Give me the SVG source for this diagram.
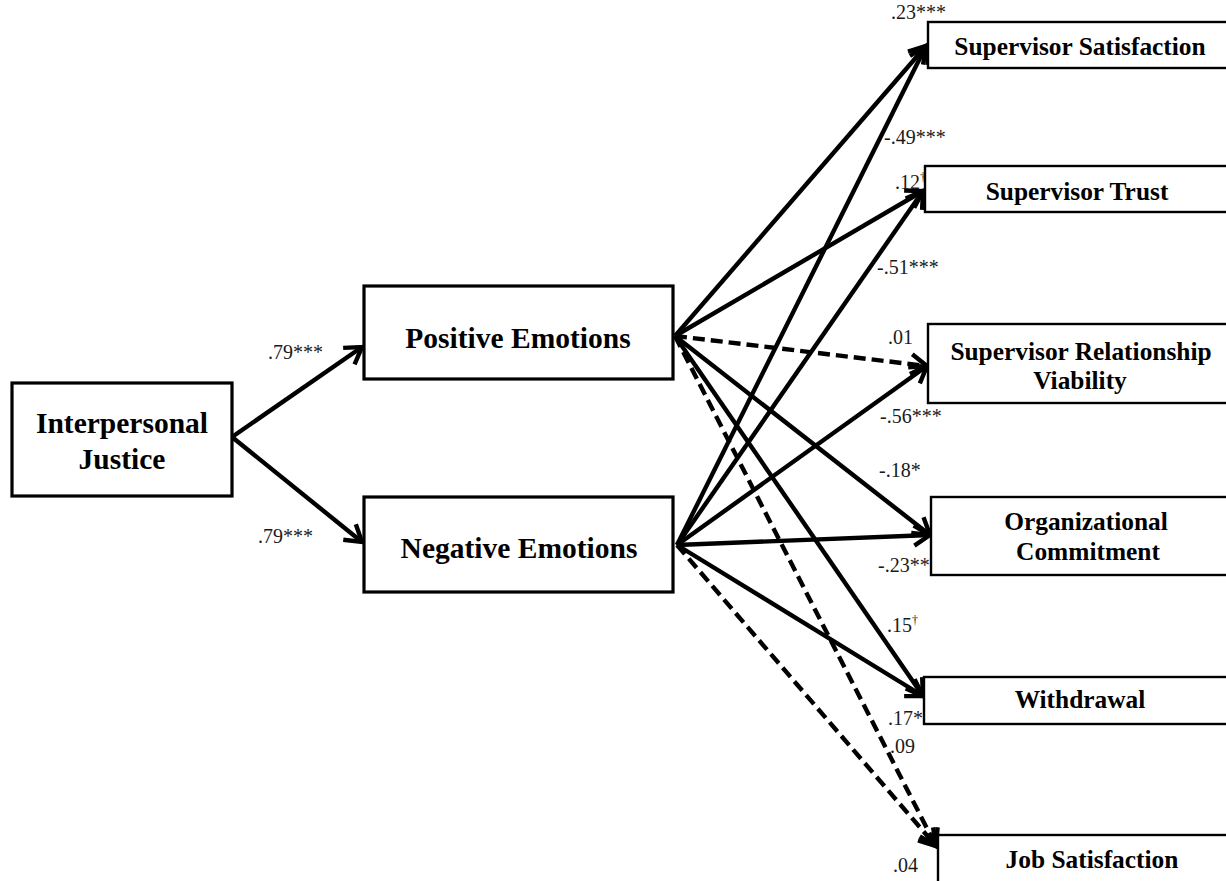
<svg xmlns="http://www.w3.org/2000/svg" width="1226" height="881" viewBox="0 0 1226 881">
<style>
.box{fill:#fff;stroke:#000;stroke-width:3.2}
.obox{fill:#fff;stroke:#000;stroke-width:2.4}
.main{font-family:"Liberation Serif","Times New Roman",serif;font-weight:bold;font-size:29.5px;fill:#000;text-anchor:middle}
.out{font-family:"Liberation Serif","Times New Roman",serif;font-weight:bold;font-size:25.4px;fill:#000;text-anchor:middle}
.lbl{font-family:"Liberation Serif","Times New Roman",serif;font-size:20px;fill:#1a1a1a}
.sup{font-size:12px;fill:#1a1a1a}
.c{stroke:#000;stroke-width:4.4;fill:none;marker-end:url(#ah)}
.d{stroke-dasharray:12 6}
</style>
<defs>
<marker id="ah" markerUnits="userSpaceOnUse" markerWidth="28" markerHeight="28" viewBox="0 0 28 28" refX="23" refY="14" orient="auto">
<path d="M7,4 L23,14 L7,24" fill="none" stroke="#000" stroke-width="4.4" stroke-linejoin="miter"/>
</marker>
</defs>
<rect width="1226" height="881" fill="#fff"/>

<g id="connectors">
<line class="c" x1="232" y1="437" x2="362" y2="347"/>
<line class="c" x1="232" y1="437" x2="362" y2="542"/>
<line class="c" x1="675" y1="336" x2="926" y2="46"/>
<line class="c" x1="675" y1="336" x2="923" y2="191"/>
<line class="c d" x1="675" y1="336" x2="927" y2="366"/>
<line class="c" x1="675" y1="336" x2="930" y2="535"/>
<line class="c" x1="675" y1="336" x2="923" y2="696"/>
<line class="c d" x1="675" y1="336" x2="936" y2="846"/>
<line class="c" x1="677" y1="545" x2="926" y2="46"/>
<line class="c" x1="677" y1="545" x2="923" y2="191"/>
<line class="c" x1="677" y1="545" x2="927" y2="366"/>
<line class="c" x1="677" y1="545" x2="930" y2="535"/>
<line class="c" x1="677" y1="545" x2="923" y2="696"/>
<line class="c d" x1="677" y1="545" x2="936" y2="846"/>
</g>

<g id="labels">
<text class="lbl" x="268" y="359">.79***</text>
<text class="lbl" x="258" y="543">.79***</text>
<text class="lbl" x="891" y="19">.23***</text>
<text class="lbl" x="884" y="144">-.49***</text>
<text class="lbl" x="895" y="189">.12<tspan class="sup" dy="-8">†</tspan></text>
<text class="lbl" x="877" y="274">-.51***</text>
<text class="lbl" x="888" y="344">.01</text>
<text class="lbl" x="880" y="423">-.56***</text>
<text class="lbl" x="879" y="477">-.18*</text>
<text class="lbl" x="878" y="572">-.23**</text>
<text class="lbl" x="887" y="632">.15<tspan class="sup" dy="-8">†</tspan></text>
<text class="lbl" x="888" y="725">.17*</text>
<text class="lbl" x="890" y="753">.09</text>
<text class="lbl" x="893" y="872">.04</text>
</g>

<g id="interpersonal-justice">
<rect class="box" x="12" y="383" width="220" height="113"/>
<text class="main" x="122" y="433">Interpersonal</text>
<text class="main" x="122" y="469">Justice</text>
</g>
<g id="positive-emotions">
<rect class="box" x="364" y="286" width="309" height="93"/>
<text class="main" x="518" y="348">Positive Emotions</text>
</g>
<g id="negative-emotions">
<rect class="box" x="364" y="497" width="309" height="95"/>
<text class="main" x="519" y="558">Negative Emotions</text>
</g>
<g id="supervisor-satisfaction">
<rect class="obox" x="928" y="22" width="310" height="46"/>
<text class="out" x="1080" y="55">Supervisor Satisfaction</text>
</g>
<g id="supervisor-trust">
<rect class="obox" x="925" y="166" width="310" height="46"/>
<text class="out" x="1077" y="200">Supervisor Trust</text>
</g>
<g id="supervisor-relationship-viability">
<rect class="obox" x="928" y="324" width="310" height="79"/>
<text class="out" x="1081" y="360">Supervisor Relationship</text>
<text class="out" x="1080" y="389">Viability</text>
</g>
<g id="organizational-commitment">
<rect class="obox" x="931" y="497" width="310" height="78"/>
<text class="out" x="1086" y="530">Organizational</text>
<text class="out" x="1088" y="560">Commitment</text>
</g>
<g id="withdrawal">
<rect class="obox" x="924" y="677" width="310" height="47"/>
<text class="out" x="1080" y="708">Withdrawal</text>
</g>
<g id="job-satisfaction">
<rect class="obox" x="938" y="835" width="310" height="50"/>
<text class="out" x="1092" y="868">Job Satisfaction</text>
</g>
</svg>
